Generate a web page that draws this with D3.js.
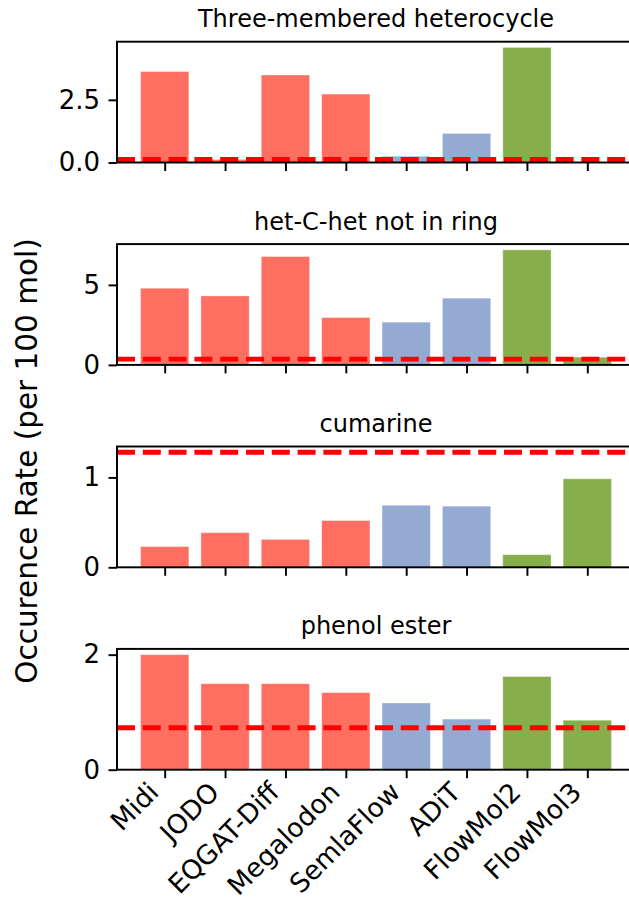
<!DOCTYPE html>
<html>
<head>
<meta charset="utf-8">
<script src="https://cdn.jsdelivr.net/npm/d3@7"></script>
<style>
  body { margin: 0; background: #fff; }
  text { font-family: "DejaVu Sans", sans-serif; fill: #000; }
</style>
</head>
<body>
<div id="chart"></div>
<script>
// models on the x axis
const models = ["Midi", "JODO", "EQGAT-Diff", "Megalodon", "SemlaFlow", "ADiT", "FlowMol2", "FlowMol3"];
const modelColors = ["#ff6f61", "#ff6f61", "#ff6f61", "#ff6f61", "#94aad3", "#94aad3", "#88ad4b", "#88ad4b"];

// one panel per substructure
const titles = ["Three-membered heterocycle", "het-C-het not in ring", "cumarine", "phenol ester"];
const threeRing = [3.63, 0.12, 3.49, 2.73, 0.25, 1.16, 4.59, 0];
const hetChet = [4.79, 4.31, 6.77, 2.96, 2.67, 4.17, 7.19, 0.48];
const cumarine = [0.23, 0.385, 0.31, 0.52, 0.69, 0.68, 0.14, 0.985];
const phenolEster = [2.0, 1.495, 1.495, 1.34, 1.16, 0.88, 1.62, 0.86];
const refLines = [0.12, 0.36, 1.28, 0.73]; // red dashed reference level
const yTicks = [[0, 2.5], [0, 5], [0, 1], [0, 2]];
const yFormats = [".1f", "d", "d", "d"];

const panels = [threeRing, hetChet, cumarine, phenolEster];

const W = 629, H = 905;
const left = 117, right = 635;       // right spine falls just outside the picture
const top0 = 41.7, pitch = 202.4, ph = 120.8;

const svg = d3.select("#chart").append("svg")
  .attr("width", W).attr("height", H)
  .attr("xmlns", "http://www.w3.org/2000/svg");

// x positions are shared by every panel
const x = d3.scaleLinear().domain([-0.79, 7.79]).range([left, right]);
const barW = x(0.8) - x(0);

panels.forEach(function (vals, p) {
  const top = top0 + p * pitch, bottom = top + ph;
  const ymax = 1.05 * Math.max(d3.max(vals), refLines[p]);
  const y = d3.scaleLinear().domain([0, ymax]).range([bottom, top]);
  const g = svg.append("g");

  // bars
  g.selectAll(".bar")
    .data(vals)
    .join("rect")
    .attr("x", (d, i) => x(i) - barW / 2)
    .attr("y", d => y(d))
    .attr("width", barW)
    .attr("height", d => y(0) - y(d))
    .attr("fill", (d, i) => modelColors[i])
    .attr("stroke", "#fff")
    .attr("stroke-opacity", 0.35)
    .attr("stroke-width", 1);

  // reference line
  g.append("line")
    .attr("x1", x(-0.79)).attr("x2", x(7.79))
    .attr("y1", y(refLines[p])).attr("y2", y(refLines[p]))
    .attr("stroke", "#ff0000")
    .attr("stroke-width", 4.86)
    .attr("stroke-dasharray", "18,7.8");

  // frame
  g.append("rect")
    .attr("x", left).attr("y", top)
    .attr("width", right - left).attr("height", ph)
    .attr("fill", "none").attr("stroke", "#000").attr("stroke-width", 1.94);

  // y axis
  const ya = g.append("g")
    .attr("transform", `translate(${left},0)`)
    .call(d3.axisLeft(y).tickValues(yTicks[p]).tickFormat(d3.format(yFormats[p]))
      .tickSize(8.5).tickPadding(8.5));
  ya.select(".domain").remove();
  ya.selectAll(".tick line").attr("stroke", "#000").attr("stroke-width", 1.94);
  ya.selectAll(".tick text").style("font-size", "26px").attr("fill", "#000")
    .style("font-family", "DejaVu Sans");

  // x axis ticks (labels only on the last panel)
  const xa = g.append("g")
    .attr("transform", `translate(0,${bottom})`)
    .call(d3.axisBottom(x).tickValues(d3.range(models.length)).tickSize(8.5)
      .tickFormat(""));
  xa.select(".domain").remove();
  xa.selectAll(".tick line").attr("stroke", "#000").attr("stroke-width", 1.94);

  if (p === panels.length - 1) {
    g.selectAll(".xlab")
      .data(models)
      .join("text")
      .attr("transform", (d, i) => `translate(${x(i) - 4.4},${bottom + 24}) rotate(-45)`)
      .attr("text-anchor", "end")
      .style("font-size", "26.5px")
      .text(d => d);
  }

  // title
  g.append("text")
    .attr("x", (left + right) / 2)
    .attr("y", top - 14.5)
    .attr("text-anchor", "middle")
    .style("font-size", "24px")
    .text(titles[p]);
});

// shared y label
svg.append("text")
  .attr("transform", "translate(37,461) rotate(-90)")
  .attr("text-anchor", "middle")
  .style("font-size", "29.5px")
  .text("Occurence Rate (per 100 mol)");
</script>
</body>
</html>
